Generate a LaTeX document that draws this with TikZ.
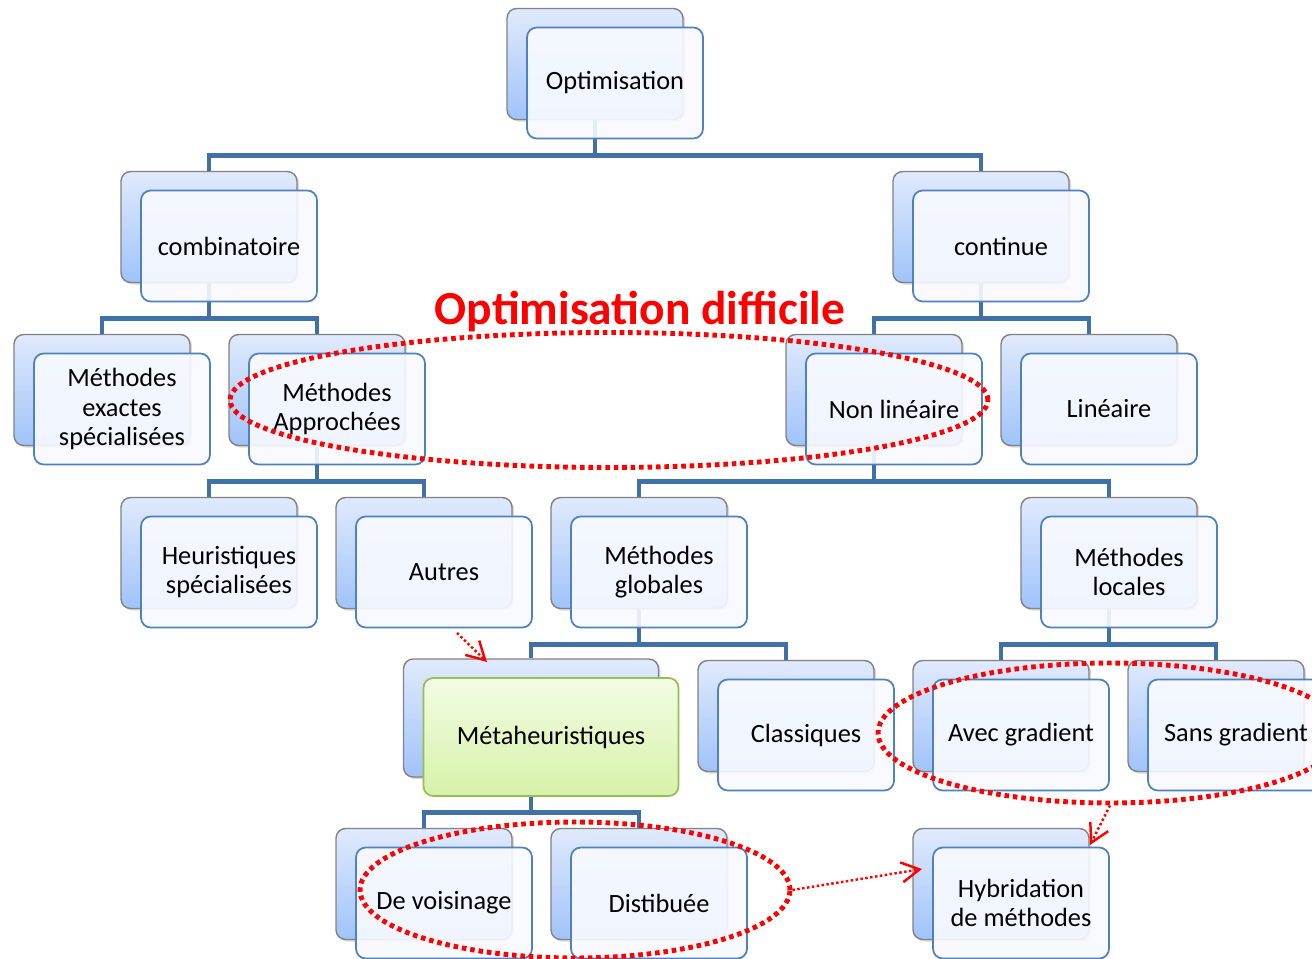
\documentclass[tikz,border=0pt]{standalone}
\usepackage{fontspec}
\setmainfont{Carlito}
\usetikzlibrary{shapes.geometric,arrows.meta,backgrounds,shadows}
\definecolor{bleulien}{RGB}{64,112,165}
\definecolor{bordbleu}{RGB}{79,129,189}
\definecolor{grisbord}{RGB}{130,130,130}
\definecolor{bleuhaut}{RGB}{224,234,252}
\definecolor{bleubas}{RGB}{160,195,250}
\definecolor{blancbleu}{RGB}{248,250,255}
\definecolor{verthaut}{RGB}{243,252,228}
\definecolor{vertbas}{RGB}{214,242,168}
\definecolor{vertbord}{RGB}{155,187,89}
\definecolor{rouge}{RGB}{255,0,0}

\begin{document}
\begin{tikzpicture}[x=0.02cm, y=-0.02cm,
    font=\fontsize{15pt}{16.8pt}\selectfont,
    arriere/.style={draw=grisbord, line width=0.8pt, rounded corners=5.5pt,
        top color=bleuhaut, bottom color=bleubas, inner sep=0pt,
        minimum width=3.52cm, minimum height=2.22cm,
        drop shadow={shadow xshift=1.2pt, shadow yshift=-1.2pt, opacity=0.3}},
    avant/.style={draw=bordbleu, line width=1pt, rounded corners=5.5pt,
        fill=blancbleu, fill opacity=0.9, text opacity=1, inner sep=0pt,
        minimum width=3.52cm, minimum height=2.22cm, align=center},
    lien/.style={draw=bleulien, line width=2.8pt},
    ovale/.style={ellipse, draw=rouge, line width=2.8pt, inner sep=0pt,
        dash pattern=on 2.6pt off 2.2pt},
    fleche/.style={draw=rouge, line width=1.4pt, dash pattern=on 1.4pt off 1.4pt,
        -{Straight Barb[length=0.36cm,width=0.4cm,line width=1.4pt]}}]

    \useasboundingbox (0,0) rectangle (1312,959);

    % Boites (arriere + avant)
    \foreach \nom/\x/\y/\texte in {
        opt/595/64/Optimisation,
        comb/209/227/combinatoire,
        cont/981/227/continue,
        exact/102/390/{Méthodes\\exactes\\spécialisées},
        appr/317/390/{Méthodes\\Approchées},
        nonlin/874/390/{Non linéaire},
        lin/1089/390/Linéaire,
        heur/209/553/{Heuristiques\\spécialisées},
        autres/424/553/Autres,
        glob/639/553/{Méthodes\\globales},
        loc/1109/553/{Méthodes\\locales},
        class/786/716/Classiques,
        avec/1001/716/{Avec gradient},
        sans/1216/716/{Sans gradient},
        vois/424/884/{De voisinage},
        dist/639/884/Distibuée,
        hyb/1001/884/{Hybridation\\de méthodes}} {
        \node[arriere] (\nom-b) at (\x,\y) {};
        \node[avant] (\nom) at (\x+20,\y+19) {\texte};
    }

    % Metaheuristiques
    \node[arriere, minimum width=5.1cm, minimum height=2.36cm] (meta-b) at (531,718) {};
    \node[avant, minimum width=5.1cm, minimum height=2.36cm, draw=vertbord,
        top color=verthaut, bottom color=vertbas, fill opacity=1] (meta) at (551,737) {Métaheuristiques};

    % Liens de l'arbre
    \begin{scope}[on background layer]
        \fill[white] (0,0) rectangle (1312,959);
        \foreach \pere/\fils in {opt/comb, opt/cont, comb/exact, comb/appr,
            cont/nonlin, cont/lin, appr/heur, appr/autres, nonlin/glob,
            nonlin/loc, glob/meta, glob/class, loc/avec, loc/sans,
            meta/vois, meta/dist} {
            \draw[lien] (\pere-b.south) -- ++(0,35) -| (\fils-b.north);
        }
    \end{scope}

    % Zones difficiles
    \node[ovale, minimum width=15.16cm, minimum height=2.7cm] (zone1) at (609,400) {};
    \node[ovale, minimum width=9.28cm, minimum height=2.8cm] (zone2) at (1110,733) {};
    \node[ovale, minimum width=8.6cm, minimum height=2.72cm] (zone3) at (575,890) {};
    \node[rouge, font=\fontsize{27pt}{31pt}\selectfont\bfseries] (difficile) at (640,312) {Optimisation difficile};

    % Fleches
    \coordinate (depart) at (457,633);
    \coordinate (vers-meta) at (487,662);
    \coordinate (vers-hyb1) at (1090,845);
    \coordinate (vers-hyb2) at (922,869);
    \draw[fleche] (depart) -- (vers-meta);
    \draw[fleche] (zone2.south) -- (vers-hyb1);
    \draw[fleche] (zone3.east) -- (vers-hyb2);
\end{tikzpicture}
\end{document}
